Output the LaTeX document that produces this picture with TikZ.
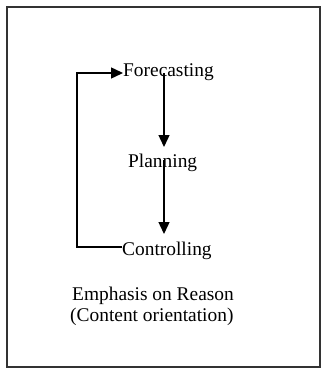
\documentclass[tikz,border=0pt]{standalone}
\usepackage{fontspec}
\setmainfont{Liberation Serif}
\usetikzlibrary{arrows.meta}
\begin{document}
\begin{tikzpicture}[x=1pt,y=-1pt,
  lbl/.style={inner sep=0pt,anchor=base west,font=\fontsize{19.4}{22}\selectfont},
  arr/.style={line width=1.4pt,-{Triangle[width=11pt,length=12pt]}},
  ln/.style={line width=1.4pt}]
\useasboundingbox (0,0) rectangle (322,369);
\draw[line width=1.2pt,black!80] (7,7) rectangle (320,367);
\node[lbl] (fc) at (123,77) {Forecasting};
\node[lbl] (pl) at (128,167) {Planning};
\node[lbl] (ct) at (122,255) {Controlling};
\node[lbl] (e1) at (72,300) {Emphasis on Reason};
\node[lbl] (e2) at (70,321) {(Content orientation)};
\coordinate (a1s) at (164,73);
\coordinate (a1e) at (164,147);
\coordinate (a2s) at (164,160);
\coordinate (a2e) at (164,234);
\draw[arr] (a1s) -- (a1e);
\draw[arr] (a2s) -- (a2e);
\draw[arr] (ct.west |- 0,247) -| (77,73) -- (fc.west |- 0,73);
\end{tikzpicture}
\end{document}
